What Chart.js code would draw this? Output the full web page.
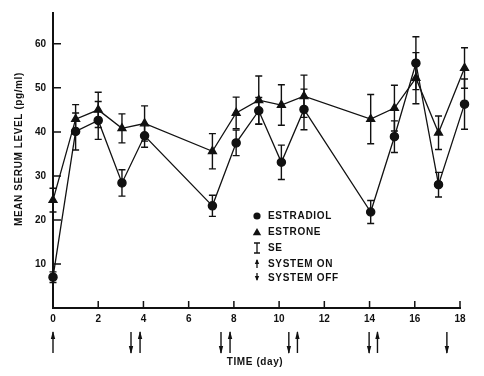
<!DOCTYPE html>
<html><head><meta charset="utf-8">
<script src="https://cdn.jsdelivr.net/npm/chart.js@4/dist/chart.umd.min.js"></script>
<style>html,body{margin:0;padding:0;background:#fff;}#wrap{width:484px;height:376px;position:relative;}</style>
</head><body><div id="wrap"><canvas id="c" width="484" height="376"></canvas></div>
<script>
// ---- data ----
const days        = [0, 1, 2, 3.05, 4.05, 7.05, 8.1, 9.1, 10.1, 11.1, 14.05, 15.1, 16.05, 17.05, 18.2];
const estradiol   = [7.0, 40.1, 42.6, 28.4, 39.1, 23.2, 37.5, 44.8, 33.1, 45.1, 21.8, 38.9, 55.6, 28.0, 46.3];
const estradiolSE = [1.2, 4.2, 4.3, 3.0, 2.6, 2.4, 2.9, 3.0, 3.9, 4.6, 2.6, 3.6, 6.0, 2.8, 5.7];
const estrone     = [24.5, 42.9, 45.0, 40.8, 41.9, 35.6, 44.3, 47.2, 46.1, 48.1, 42.9, 45.4, 52.2, 39.8, 54.5];
const estroneSE   = [2.7, 3.3, 4.0, 3.3, 4.0, 4.0, 3.6, 5.5, 4.6, 4.8, 5.6, 5.2, 5.8, 3.8, 4.6];
const systemOn    = [0, 3.85, 7.83, 10.81, 14.35];
const systemOff   = [3.45, 7.43, 10.43, 13.98, 17.42];
const xTicks      = [0, 2, 4, 6, 8, 10, 12, 14, 16, 18];
const yTicks      = [10, 20, 30, 40, 50, 60];
const legendLabels = ['ESTRADIOL', 'ESTRONE', 'SE', 'SYSTEM ON', 'SYSTEM OFF'];
const yTitle = 'MEAN SERUM LEVEL (pg/ml)';
const xTitle = 'TIME (day)';

const FONT = '"Liberation Sans", Arial, sans-serif';
const INK = '#111';

function toPts(xs, ys){ return xs.map((x,i)=>({x:x, y:ys[i]})); }

function drawArrow(ctx, x, yTop, yBot, up, head, hw){
  ctx.beginPath();
  ctx.moveTo(x, yTop); ctx.lineTo(x, yBot); ctx.stroke();
  ctx.beginPath();
  if (up){ ctx.moveTo(x, yTop - 1); ctx.lineTo(x - hw, yTop + head); ctx.lineTo(x + hw, yTop + head); }
  else   { ctx.moveTo(x, yBot + 1); ctx.lineTo(x - hw, yBot - head); ctx.lineTo(x + hw, yBot - head); }
  ctx.closePath(); ctx.fill();
}

const overlay = {
  id: 'overlay',
  beforeDatasetsDraw(chart){
    const {ctx, scales:{x, y}} = chart;
    ctx.save();
    ctx.strokeStyle = INK; ctx.lineWidth = 1.4;
    const sets = [[estradiol, estradiolSE], [estrone, estroneSE]];
    sets.forEach(([vals, se]) => {
      vals.forEach((v, i) => {
        const px = x.getPixelForValue(days[i]);
        const top = y.getPixelForValue(v + se[i]);
        const bot = y.getPixelForValue(v - se[i]);
        ctx.beginPath();
        ctx.moveTo(px, top); ctx.lineTo(px, bot);
        ctx.moveTo(px - 3.5, top); ctx.lineTo(px + 3.5, top);
        ctx.moveTo(px - 3.5, bot); ctx.lineTo(px + 3.5, bot);
        ctx.stroke();
      });
    });
    ctx.restore();
  },
  afterDraw(chart){
    const {ctx, scales:{x, y}} = chart;
    ctx.save();
    ctx.strokeStyle = INK; ctx.fillStyle = INK; ctx.lineWidth = 1.5;
    // inward tick marks
    const bottom = y.getPixelForValue(0), left = x.getPixelForValue(0);
    ctx.beginPath();
    xTicks.forEach(v => { if (v === 0) return; const px = x.getPixelForValue(v); ctx.moveTo(px, bottom); ctx.lineTo(px, bottom - 7); });
    yTicks.forEach(v => { const py = y.getPixelForValue(v); ctx.moveTo(left, py); ctx.lineTo(left + 8, py); });
    ctx.stroke();
    // system on/off arrows under the axis
    ctx.lineWidth = 1.4;
    systemOn.forEach(d => drawArrow(ctx, x.getPixelForValue(d), 332, 353, true, 7, 2.2));
    systemOff.forEach(d => drawArrow(ctx, x.getPixelForValue(d), 332, 353, false, 7, 2.2));
    // titles
    ctx.font = 'bold 10px ' + FONT;
    ctx.letterSpacing = '0.6px';
    ctx.textAlign = 'center'; ctx.textBaseline = 'middle';
    ctx.fillText(xTitle, 255, 362);
    ctx.save();
    ctx.translate(19, 149); ctx.rotate(-Math.PI/2);
    ctx.fillText(yTitle, 0, 0);
    ctx.restore();
    // legend
    const lx = 257, tx = 268, rows = [216, 232, 248, 264, 278];
    ctx.textAlign = 'left';
    ctx.font = 'bold 10px ' + FONT;
    ctx.letterSpacing = '0.7px';
    legendLabels.forEach((t, i) => ctx.fillText(t, tx, rows[i] + 0.5));
    // symbols
    ctx.beginPath(); ctx.arc(lx, rows[0], 3.6, 0, Math.PI*2); ctx.fill();
    ctx.beginPath(); ctx.moveTo(lx, rows[1]-4); ctx.lineTo(lx-4.2, rows[1]+3.2); ctx.lineTo(lx+4.2, rows[1]+3.2); ctx.closePath(); ctx.fill();
    ctx.lineWidth = 1.3;
    ctx.beginPath();
    ctx.moveTo(lx, rows[2]-5); ctx.lineTo(lx, rows[2]+5);
    ctx.moveTo(lx-3, rows[2]-5); ctx.lineTo(lx+3, rows[2]-5);
    ctx.moveTo(lx-3, rows[2]+5); ctx.lineTo(lx+3, rows[2]+5);
    ctx.stroke();
    drawArrow(ctx, lx, rows[3]-4, rows[3]+4, true, 4, 2.2);
    drawArrow(ctx, lx, rows[4]-5, rows[4]+2, false, 4, 2.2);
    ctx.restore();
  }
};

new Chart(document.getElementById('c'), {
  type: 'line',
  data: {
    datasets: [
      { label: 'ESTRADIOL', data: toPts(days, estradiol), borderColor: INK, backgroundColor: INK,
        borderWidth: 1.3, pointStyle: 'circle', pointRadius: 4.1, tension: 0, clip: false },
      { label: 'ESTRONE', data: toPts(days, estrone), borderColor: INK, backgroundColor: INK,
        borderWidth: 1.3, pointStyle: 'triangle', pointRadius: 4.6, tension: 0, clip: false }
    ]
  },
  options: {
    responsive: false, animation: false, devicePixelRatio: 1,
    layout: { padding: { top: 4, right: 24, left: 0, bottom: 0 } },
    plugins: { legend: { display: false }, tooltip: { enabled: false } },
    scales: {
      x: {
        type: 'linear', min: 0, max: 18,
        afterBuildTicks: s => { s.ticks = xTicks.map(v => ({value: v})); },
        afterFit: s => { s.height = 68; },
        ticks: { color: INK, font: { family: FONT, size: 10, weight: 'bold' }, padding: 5, maxRotation: 0 },
        grid: { display: false, drawTicks: false },
        border: { color: INK, width: 2 }
      },
      y: {
        type: 'linear', min: 0, max: 67,
        afterBuildTicks: s => { s.ticks = yTicks.map(v => ({value: v})); },
        afterFit: s => { s.width = 53; },
        ticks: { color: INK, font: { family: FONT, size: 10, weight: 'bold' }, padding: 7 },
        grid: { display: false, drawTicks: false },
        border: { color: INK, width: 2 }
      }
    }
  },
  plugins: [overlay]
});
</script>
</body></html>
